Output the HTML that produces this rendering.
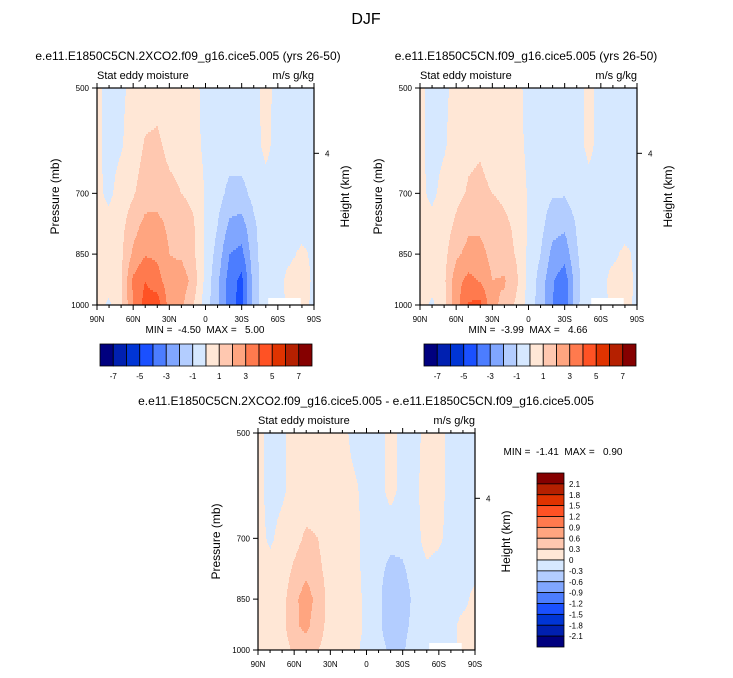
<!DOCTYPE html>
<html><head><meta charset="utf-8"><style>
body{margin:0;background:#fff;}
svg text{font-family:"Liberation Sans",sans-serif;fill:#000;white-space:pre;}
</style></head><body>
<svg id="s" width="733" height="673" viewBox="0 0 733 673" xmlns="http://www.w3.org/2000/svg">
<text x="366" y="24" font-size="16" text-anchor="middle">DJF</text>
</svg>
<script>
const lats=[90,80,70,60,50,40,30,20,10,0,-10,-20,-30,-40,-50,-60,-70,-80,-90];
const pres=[500,600,700,775,850,925,1000];
const ctl2x=[
[0.2,-0.3,-0.2,0.3,0.5,0.6,0.4,0.3,0.2,-0.2,-0.4,-0.4,-0.4,-0.3,0.3,-0.3,-0.4,-0.4,-0.4],
[0.2,-0.3,-0.1,0.5,1.1,1.2,0.7,0.5,0.3,-0.2,-0.4,-0.5,-0.5,-0.3,0.2,-0.3,-0.4,-0.4,-0.4],
[0.2,-0.2,0.4,0.9,1.5,1.6,1.3,1.0,0.8,-0.1,-0.6,-1.3,-1.3,-0.7,-0.3,-0.3,-0.4,-0.4,-0.3],
[0.3,0.3,0.7,1.6,2.3,2.3,1.8,1.5,1.1,-0.1,-1.0,-2.2,-2.4,-1.2,-0.3,-0.3,-0.4,-0.4,-0.3],
[0.3,0.4,0.8,2.2,2.9,2.8,2.0,1.8,1.2,-0.2,-1.4,-3.0,-3.3,-1.4,-0.3,-0.3,-0.2,0.2,-0.2],
[0.4,0.5,0.9,3.2,4.0,3.4,2.4,2.6,1.6,-0.3,-1.8,-3.5,-4.3,-1.6,-0.3,-0.3,0.3,0.5,-0.2],
[0.4,-0.2,0.8,3.0,4.4,4.6,2.6,2.2,1.0,-0.5,-1.8,-3.6,-4.4,-1.5,-0.3,-0.3,0.2,0.3,-0.2]];
const ctl1x=[
[0.2,-0.3,-0.2,0.3,0.4,0.5,0.4,0.3,0.2,-0.2,-0.4,-0.4,-0.4,-0.3,0.2,-0.3,-0.4,-0.4,-0.4],
[0.2,-0.3,-0.1,0.4,0.8,0.9,0.6,0.4,0.3,-0.2,-0.4,-0.4,-0.4,-0.3,0.2,-0.3,-0.4,-0.4,-0.4],
[0.2,-0.2,0.3,0.7,1.1,1.2,1.0,0.8,0.6,-0.1,-0.5,-0.9,-0.9,-0.5,-0.3,-0.3,-0.4,-0.4,-0.3],
[0.3,0.3,0.5,1.2,1.8,1.8,1.5,1.2,0.8,-0.1,-0.7,-1.6,-1.8,-0.9,-0.3,-0.3,-0.4,-0.4,-0.3],
[0.3,0.4,0.7,1.8,2.3,2.3,1.7,1.5,0.9,-0.2,-1.0,-2.3,-2.6,-1.1,-0.3,-0.3,-0.2,0.2,-0.2],
[0.4,0.4,0.8,2.6,3.3,2.9,2.0,2.1,1.2,-0.3,-1.4,-2.9,-3.6,-1.3,-0.3,-0.3,0.3,0.4,-0.2],
[0.4,-0.2,0.7,2.6,4.1,4.3,2.2,1.8,0.8,-0.4,-1.5,-3.0,-3.8,-1.2,-0.3,-0.3,0.2,0.3,-0.2]];
const diff=[
[0.1,-0.1,-0.05,0.1,0.1,0.1,0.1,0.1,-0.1,-0.1,-0.1,0.1,-0.1,-0.1,0.1,0.1,-0.1,-0.1,-0.1],
[0.1,-0.1,-0.05,0.1,0.15,0.15,0.1,0.1,0.05,-0.1,-0.1,0.1,-0.1,-0.05,0.1,0.1,-0.1,-0.1,-0.1],
[0.1,-0.05,0.1,0.2,0.35,0.3,0.15,0.1,0.1,-0.1,-0.15,-0.2,-0.2,-0.1,0.1,0.05,-0.1,-0.1,-0.1],
[0.15,0.1,0.15,0.35,0.5,0.35,0.2,0.15,0.1,-0.1,-0.2,-0.4,-0.35,-0.15,-0.05,-0.1,-0.1,-0.1,-0.1],
[0.2,0.15,0.2,0.5,0.78,0.45,0.2,0.2,0.15,-0.1,-0.2,-0.6,-0.5,-0.2,-0.1,-0.1,-0.1,-0.1,0.1],
[0.3,0.3,0.2,0.55,0.68,0.4,0.2,0.3,0.2,-0.1,-0.25,-0.45,-0.4,-0.2,-0.1,-0.1,-0.1,0.1,0.1],
[0.2,0.3,0.15,0.35,0.45,0.3,0.2,0.25,0.1,-0.15,-0.2,-0.35,-0.35,-0.1,-0.1,-0.1,-0.1,0.1,0.1]];
const topTicks=["-7","-5","-3","-1","1","3","5","7"];
const diffTicks=["2.1","1.8","1.5","1.2","0.9","0.6","0.3","0","-0.3","-0.6","-0.9","-1.2","-1.5","-1.8","-2.1"];
const latLabels=["90N","60N","30N","0","30S","60S","90S"];
const presLabels=[500,700,850,1000];
const colors=["#00007f","#0020b0","#0035d5","#1a50ff","#4c7dff","#80a6ff","#b3cdff","#d6e8ff","#ffe7d6","#ffc8b0","#ffa580","#ff7a4e","#ff5224","#e03300","#b52000","#850000"];
const NS="http://www.w3.org/2000/svg";
const svg=document.getElementById('s');
function mk(tag,attrs,txt){const e=document.createElementNS(NS,tag);for(const k in attrs)e.setAttribute(k,attrs[k]);if(txt!==undefined)e.textContent=txt;svg.appendChild(e);return e;}
function txt(x,y,s,t,anchor,extra){return mk('text',Object.assign({x:x,y:y,'font-size':s,'text-anchor':anchor||'start'},extra||{}),t);}
function panel(px,py,W,H,data,step,title,titleX,minmax,mmX,mmY,name){
  const g=mk('g',{});
  
  
  const lp0=Math.log(500),lp1=Math.log(1000);
  const xOf=lat=>px+(90-lat)/180*W;
  const yOf=p=>py+(Math.log(p)-lp0)/(lp1-lp0)*H;
  const c=2;
  for(let yy=0;yy<H;yy+=c){
    const p=Math.exp(lp0+(yy+c/2)/H*(lp1-lp0));
    let j=0;while(j<pres.length-2&&pres[j+1]<p)j++;
    const ty=(Math.log(p)-Math.log(pres[j]))/(Math.log(pres[j+1])-Math.log(pres[j]));
    let runStart=0,runK=-1;
    const flush=(end)=>{if(runK<0)return;
      const r=document.createElementNS(NS,'rect');
      r.setAttribute('x',px+runStart);r.setAttribute('y',py+yy);
      r.setAttribute('width',end-runStart+0.4);r.setAttribute('height',Math.min(c,H-yy)+0.4);
      r.setAttribute('fill',colors[runK]);r.setAttribute('shape-rendering','crispEdges');
      
      
      g.appendChild(r);};
    for(let xx=0;xx<W;xx+=1){
      const lat=90-(xx+0.5)/W*180;
      let i=0;while(i<lats.length-2&&lats[i+1]>lat)i++;
      const tx=(lats[i]-lat)/(lats[i]-lats[i+1]);
      const v=(1-ty)*((1-tx)*data[j][i]+tx*data[j][i+1])+ty*((1-tx)*data[j+1][i]+tx*data[j+1][i+1]);
      const k=Math.max(0,Math.min(15,Math.floor(v/step)+8));
      if(k!==runK){flush(xx);runStart=xx;runK=k;}
    }
    flush(W);
  }
  const wr=mk('rect',{x:xOf(-52),y:py+H-7,width:W*0.15,height:7,fill:'#fff'});
  
  
  const fr=mk('rect',{x:px,y:py,width:W,height:H,fill:'none',stroke:'#000','stroke-width':1.2});
  
  
  latLabels.forEach((l,n)=>{const x=px+n*W/6;mk('line',{x1:x,y1:py+H,x2:x,y2:py+H+5,stroke:'#000'});mk('line',{x1:x,y1:py,x2:x,y2:py-5,stroke:'#000'});
    const t=txt(x,py+H+17,8,l,'middle');});
  for(let n=1;n<18;n++){if(n%3){const x=px+n*W/18;mk('line',{x1:x,y1:py+H,x2:x,y2:py+H+3,stroke:'#000'});mk('line',{x1:x,y1:py,x2:x,y2:py-3,stroke:'#000'});}}
  presLabels.forEach(p=>{const y=yOf(p);mk('line',{x1:px,y1:y,x2:px-5,y2:y,stroke:'#000'});
    const t=txt(px-8,y+3,8,String(p),'end');});
  const hy=yOf(616);mk('line',{x1:px+W,y1:hy,x2:px+W+5,y2:hy,stroke:'#000'});
  txt(px+W+11,hy+3,8,'4','start');
  let t=txt(0,0,12,'Pressure (mb)','middle',{transform:`translate(${px-38},${py+H/2}) rotate(-90)`});
  
  t=txt(0,0,12,'Height (km)','middle',{transform:`translate(${px+W+35},${py+H/2}) rotate(-90)`});
  
  t=txt(px,py-9,11,'Stat eddy moisture','start');
  t=txt(px+W,py-9,11,'m/s g/kg','end');
  t=txt(titleX,py-28,12,title,'middle');
  t=txt(mmX,mmY,10,minmax,'middle');
}
function hbar(x0,y0,w,h){
  const cw=w/16;
  colors.forEach((c,k)=>{const r=mk('rect',{x:x0+k*cw,y:y0,width:cw,height:h,fill:c,stroke:'#000','stroke-width':0.8});
    });
  topTicks.forEach((l,n)=>{const t=txt(x0+(1+2*n)*cw,y0+h+13,8,l,'middle');
    });
}
panel(97,88,217,217,ctl2x,1,'e.e11.E1850C5CN.2XCO2.f09_g16.cice5.005 (yrs 26-50)',188,'MIN =  -4.50  MAX =   5.00',205,333,'panel-2xco2');
panel(420,88,217,217,ctl1x,1,'e.e11.E1850C5CN.f09_g16.cice5.005 (yrs 26-50)',526,'MIN =  -3.99  MAX =   4.66',528,333,'panel-control');
panel(258,433,217,217,diff,0.3,'e.e11.E1850C5CN.2XCO2.f09_g16.cice5.005 - e.e11.E1850C5CN.f09_g16.cice5.005',366,'MIN =  -1.41  MAX =   0.90',563,455,'panel-difference');
hbar(100,344,212,22);
hbar(424,344,212,22);
(function(){const x0=537,y0=473,w=27,h=174,ch=h/16;
  for(let k=0;k<16;k++){const r=mk('rect',{x:x0,y:y0+k*ch,width:w,height:ch,fill:colors[15-k],stroke:'#000','stroke-width':0.8});
    }
  diffTicks.forEach((l,n)=>{const t=txt(x0+w+5,y0+(n+1)*ch+3,8,l,'start');
    });
})();
</script>
</body></html>
